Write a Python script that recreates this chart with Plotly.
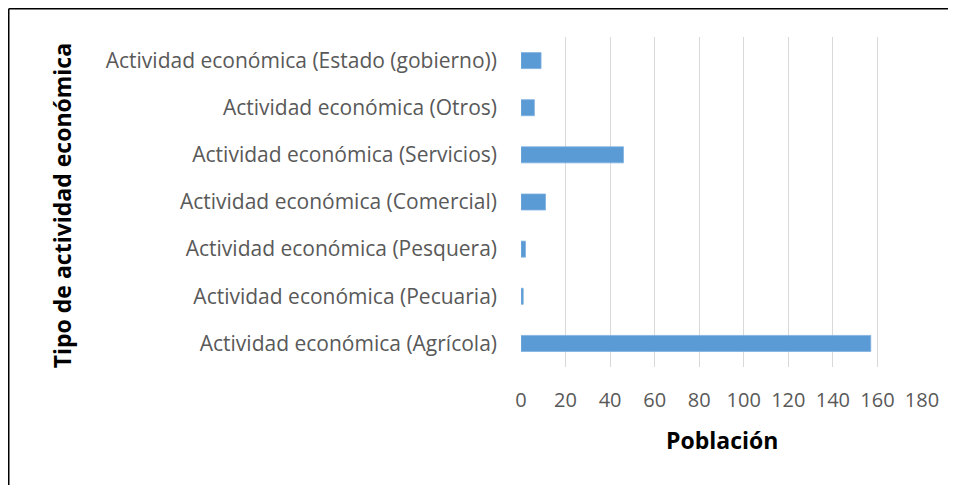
import plotly.graph_objects as go

categories = [
    "Actividad económica (Agrícola)",
    "Actividad económica (Pecuaria)",
    "Actividad económica (Pesquera)",
    "Actividad económica (Comercial)",
    "Actividad económica (Servicios)",
    "Actividad económica (Otros)",
    "Actividad económica (Estado (gobierno))",
]
values = [157, 1, 2, 11, 46, 6, 9]
x_ticks = [0, 20, 40, 60, 80, 100, 120, 140, 160, 180]
x_title = "Población"
y_title = "Tipo de actividad económica"

# page has an 8px body margin, so the figure is drawn 8px in
W, H = 948, 477
L, T = 513, 29
pw, ph = 401, 330
R, B = W - L - pw, H - T - ph

fig = go.Figure(go.Bar(
    y=categories, x=values, orientation="h",
    marker=dict(color="#5b9bd5", line=dict(color="#7fb1e0", width=0.8)),
    width=0.34,
))

font_main = "Open Sans, Lato, sans-serif"
bx0 = (0.75 - L) / pw
by1 = 1 + (T - 0.75) / ph
fig.update_layout(
    width=W, height=H,
    margin=dict(l=L, r=R, t=T, b=B, autoexpand=False),
    paper_bgcolor="white", plot_bgcolor="white",
    showlegend=False,
    font=dict(family=font_main, color="#595959", size=21),
    xaxis=dict(
        range=[0, 180], tickvals=x_ticks, showgrid=True,
        gridcolor="#d9d9d9", gridwidth=1.3, zeroline=False, showline=False,
        tickfont=dict(size=20, color="#595959"), ticklabelstandoff=19,
        automargin=False, fixedrange=True,
    ),
    yaxis=dict(
        range=[-0.5, 6.5], showgrid=False, zeroline=False, showline=False,
        tickfont=dict(size=21, color="#595959"), ticklabelstandoff=23,
        automargin=False, fixedrange=True,
    ),
    annotations=[
        dict(text="<b>" + x_title + "</b>", xref="paper", yref="paper",
             x=0.5, y=-73 / ph, xanchor="center", yanchor="middle", showarrow=False,
             font=dict(size=23, color="black", family=font_main)),
        dict(text="<b>" + y_title + "</b>", xref="paper", yref="paper",
             x=-(L - 54) / pw, y=0.49, xanchor="center", yanchor="middle", showarrow=False,
             textangle=-90, font=dict(size=23, color="black", family=font_main)),
    ],
    shapes=[
        dict(type="line", xref="paper", yref="paper",
             x0=bx0, x1=(W - L) / pw, y0=by1, y1=by1,
             line=dict(color="black", width=1.5), layer="below"),
        dict(type="line", xref="paper", yref="paper",
             x0=bx0, x1=bx0, y0=-(H - T - ph) / ph, y1=by1,
             line=dict(color="black", width=1.5), layer="below"),
    ],
)

fig.write_html("out.html")
